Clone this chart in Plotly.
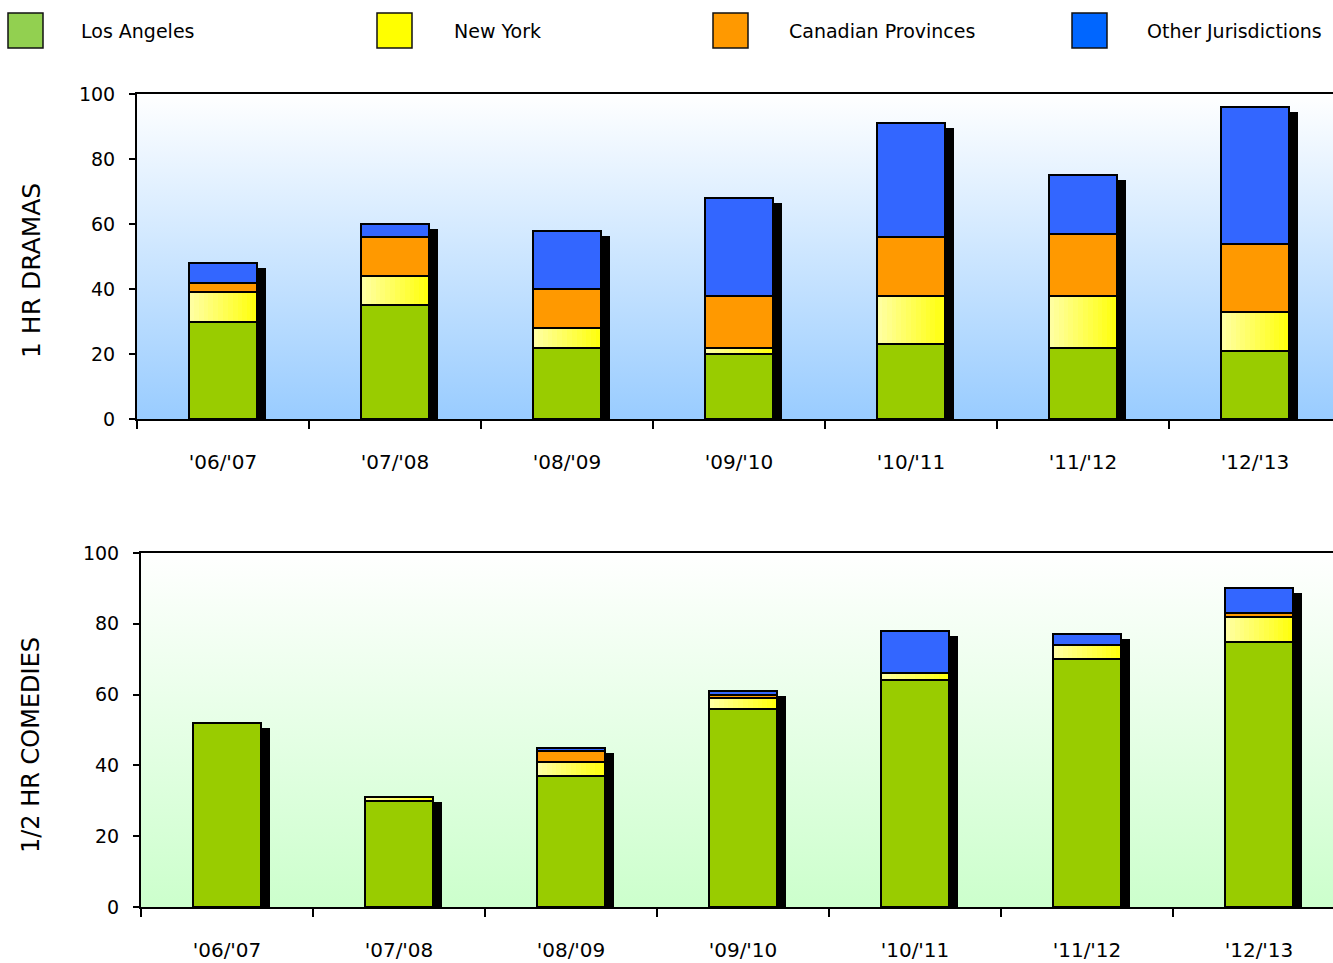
import base64
import plotly.graph_objects as go

W, H = 1333, 963

seasons = ["'06/'07", "'07/'08", "'08/'09", "'09/'10", "'10/'11", "'11/'12", "'12/'13"]
series_names = ["Los Angeles", "New York", "Canadian Provinces", "Other Jurisdictions"]

# 1 HR DRAMAS
drama_la = [30, 35, 22, 20, 23, 22, 21]
drama_ny = [9, 9, 6, 2, 15, 16, 12]
drama_cp = [3, 12, 12, 16, 18, 19, 21]
drama_ot = [6, 4, 18, 30, 35, 18, 42]

# 1/2 HR COMEDIES
comedy_la = [52, 30, 37, 56, 64, 70, 75]
comedy_ny = [0, 1, 4, 3, 2, 4, 7]
comedy_cp = [0, 0, 3, 1, 0, 0, 1]
comedy_ot = [0, 0, 1, 1, 12, 3, 7]

y_ticks = [0, 20, 40, 60, 80, 100]

FONT = "DejaVu Sans"
bar_colors = {"la": "#99CC00", "cp": "#FF9900", "ot": "#3366FF"}
legend_colors = ["#92D050", "#FFFF00", "#FF9900", "#0066FF"]

def px_x(x):
    return x / W

def px_y(y):
    return 1 - y / H

# layout geometry (pixels)
top_dom_x = [px_x(137), 1.0]
top_dom_y = [px_y(419), px_y(94)]
bot_dom_x = [px_x(141), 1.0]
bot_dom_y = [px_y(907), px_y(553)]
cat_px = 172.0
bar_w = 68 / cat_px
shadow_dx = 9 / cat_px

fig = go.Figure()

def hex_to_rgb(h):
    h = h.lstrip("#")
    return tuple(int(h[i:i + 2], 16) for i in (0, 2, 4))

def add_panel(la, ny, cp, ot, xa, ya, px_per_unit):
    totals = [a + b + c + d for a, b, c, d in zip(la, ny, cp, ot)]
    dy = 5 / px_per_unit
    # shadow
    fig.add_trace(go.Bar(x=seasons, y=totals, base=[-dy] * len(totals), width=bar_w,
                         offset=-bar_w / 2 + shadow_dx, marker=dict(color="black", line=dict(width=0)),
                         xaxis=xa, yaxis=ya, showlegend=False, hoverinfo="skip"))
    line = dict(color="black", width=2)
    # Los Angeles
    fig.add_trace(go.Bar(x=seasons, y=la, base=[0] * len(la), width=bar_w, offset=-bar_w / 2,
                         marker=dict(color=bar_colors["la"], line=line), name=series_names[0],
                         xaxis=xa, yaxis=ya, showlegend=False))
    # New York with horizontal gradient
    base_ny = list(la)
    n = 14
    c0 = hex_to_rgb("#FFFFA0")
    c1 = hex_to_rgb("#FFFF10")
    for k in range(n):
        t = k / (n - 1)
        col = "rgb(%d,%d,%d)" % tuple(round(c0[i] + (c1[i] - c0[i]) * t) for i in range(3))
        fig.add_trace(go.Bar(x=seasons, y=ny, base=base_ny, width=bar_w / n + 0.002,
                             offset=-bar_w / 2 + k * bar_w / n,
                             marker=dict(color=col, line=dict(width=0)),
                             xaxis=xa, yaxis=ya, showlegend=False, hoverinfo="skip"))
    fig.add_trace(go.Bar(x=seasons, y=ny, base=base_ny, width=bar_w, offset=-bar_w / 2,
                         marker=dict(color="rgba(0,0,0,0)", line=line), name=series_names[1],
                         xaxis=xa, yaxis=ya, showlegend=False))
    base_cp = [a + b for a, b in zip(la, ny)]
    fig.add_trace(go.Bar(x=seasons, y=cp, base=base_cp, width=bar_w, offset=-bar_w / 2,
                         marker=dict(color=bar_colors["cp"], line=line), name=series_names[2],
                         xaxis=xa, yaxis=ya, showlegend=False))
    base_ot = [a + b for a, b in zip(base_cp, cp)]
    fig.add_trace(go.Bar(x=seasons, y=ot, base=base_ot, width=bar_w, offset=-bar_w / 2,
                         marker=dict(color=bar_colors["ot"], line=line), name=series_names[3],
                         xaxis=xa, yaxis=ya, showlegend=False))

add_panel(drama_la, drama_ny, drama_cp, drama_ot, "x", "y", (419 - 94) / 100)
add_panel(comedy_la, comedy_ny, comedy_cp, comedy_ot, "x2", "y2", (907 - 553) / 100)

def grad_uri(c_top, c_bot):
    svg = ('<svg xmlns="http://www.w3.org/2000/svg" width="100" height="100" viewBox="0 0 100 100" '
           'preserveAspectRatio="none"><defs><linearGradient id="g" x1="0" y1="0" x2="0" y2="1">'
           f'<stop offset="0" stop-color="{c_top}"/><stop offset="1" stop-color="{c_bot}"/>'
           '</linearGradient></defs><rect width="100" height="100" fill="url(#g)"/></svg>')
    return "data:image/svg+xml;base64," + base64.b64encode(svg.encode()).decode()

images = [
    dict(source=grad_uri("#FFFFFF", "#99CCFF"), xref="paper", yref="paper",
         x=top_dom_x[0], y=top_dom_y[1], sizex=top_dom_x[1] - top_dom_x[0],
         sizey=top_dom_y[1] - top_dom_y[0], sizing="stretch", layer="below",
         xanchor="left", yanchor="top"),
    dict(source=grad_uri("#FFFFFF", "#CCFFCC"), xref="paper", yref="paper",
         x=bot_dom_x[0], y=bot_dom_y[1], sizex=bot_dom_x[1] - bot_dom_x[0],
         sizey=bot_dom_y[1] - bot_dom_y[0], sizing="stretch", layer="below",
         xanchor="left", yanchor="top"),
]

x_font = dict(family=FONT, size=20, color="black")
y_font = dict(family=FONT, size=19, color="black")

def xaxis(dom, anchor, right_px, left_px):
    return dict(domain=dom, anchor=anchor, type="category", categoryorder="array",
                categoryarray=seasons, range=[-0.5, (right_px - left_px) / cat_px - 0.5],
                tickson="boundaries", ticks="outside", ticklen=8, tickwidth=1.5, tickcolor="black",
                showline=True, linewidth=2, linecolor="black", mirror=True, automargin=False,
                showgrid=False, tickfont=x_font, ticklabelstandoff=24, fixedrange=True)

def yaxis(dom, anchor):
    return dict(domain=dom, anchor=anchor, range=[0, 100], tickvals=y_ticks, ticks="outside",
                ticklen=6, tickwidth=1.5, tickcolor="black", showline=True, linewidth=2,
                linecolor="black", showgrid=False, zeroline=False, tickfont=y_font,
                ticklabelstandoff=10, fixedrange=True, automargin=False)

shapes = []
annotations = []
legend_sq_x = [8, 377, 713, 1072]
legend_txt_x = [79, 452, 787, 1145]
for name, col, sx, tx in zip(series_names, legend_colors, legend_sq_x, legend_txt_x):
    shapes.append(dict(type="rect", xref="paper", yref="paper", x0=px_x(sx), x1=px_x(sx + 35),
                       y0=px_y(48), y1=px_y(13), fillcolor=col, line=dict(color="#111111", width=1.5)))
    annotations.append(dict(text=name, xref="paper", yref="paper", x=px_x(tx), y=px_y(31),
                            xanchor="left", yanchor="middle", showarrow=False,
                            font=dict(family=FONT, size=19, color="black")))

annotations.append(dict(text="1 HR DRAMAS", xref="paper", yref="paper", x=px_x(31), y=px_y(271),
                        xanchor="center", yanchor="middle", textangle=-90, showarrow=False,
                        font=dict(family=FONT, size=25, color="black")))
annotations.append(dict(text="1/2 HR COMEDIES", xref="paper", yref="paper", x=px_x(31), y=px_y(745),
                        xanchor="center", yanchor="middle", textangle=-90, showarrow=False,
                        font=dict(family=FONT, size=24, color="black")))

fig.update_layout(
    width=W, height=H, margin=dict(l=0, r=0, t=0, b=0, autoexpand=False),
    paper_bgcolor="white", plot_bgcolor="rgba(0,0,0,0)",
    barmode="overlay", bargap=0, showlegend=False,
    font=dict(family=FONT, color="black"),
    xaxis=xaxis(top_dom_x, "y", W, 137),
    yaxis=yaxis(top_dom_y, "x"),
    xaxis2=xaxis(bot_dom_x, "y2", W, 141),
    yaxis2=yaxis(bot_dom_y, "x2"),
    images=images, shapes=shapes, annotations=annotations,
)

fig.write_html("out.html", config={"displayModeBar": False})
